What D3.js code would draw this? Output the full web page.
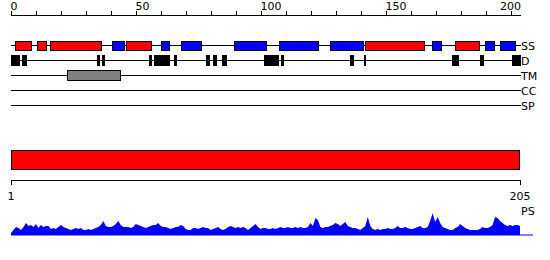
<!DOCTYPE html>
<html>
<head>
<meta charset="utf-8">
<script src="https://cdn.jsdelivr.net/npm/d3@7"></script>
<style>
  body { margin: 0; background: #fff; }
  svg text { font-family: "DejaVu Sans", sans-serif; font-size: 11px; fill: #000; }
</style>
</head>
<body>
<div id="chart"></div>
<script>
// sequence length / ruler
const seqLength = 205;
const rulerTicks = d3.range(0, 201, 10);
const rulerLabels = [0, 50, 100, 150, 200];

// track names
const tracks = ["SS", "D", "TM", "CC", "SP"];

// secondary structure: H = helix (red), E = strand (blue)
const ssStart = [1.5, 10.5, 15.5, 40.5, 46, 60, 68, 89, 107, 127.5, 141.5, 168.5, 177.5, 189.5, 195.5];
const ssEnd   = [8.5, 14.5, 36.5, 45.5, 56.5, 63.5, 76.5, 102.5, 123, 141, 165.5, 172.5, 187.5, 193.5, 202];
const ssType  = ["H", "H", "H", "E", "H", "E", "E", "E", "E", "E", "H", "E", "H", "E", "E"];

// disorder segments
const disStart = [0, 4.5, 34.5, 36.5, 55, 57, 65, 78, 81, 84.5, 101, 108, 135.5, 141, 176.5, 187.5, 200.5];
const disEnd   = [3.5, 6.5, 35.5, 37.5, 56.5, 63.5, 66.5, 79.5, 82.5, 86.5, 107, 109, 137, 142, 179, 189, 204];

// transmembrane segment
const tmStart = [22.5];
const tmEnd = [44];

// domain bar
const domainStart = [1];
const domainEnd = [205];

// per-residue profile score (PS)
const psValues = [
  2, 5, 8, 7, 5, 8, 12, 9, 10, 8, 11, 7, 10, 8, 9, 9, 6, 7, 6, 8,
  10, 8, 7, 6, 5, 6, 7, 6, 7, 5, 5, 6, 5, 6, 7, 8, 10, 14, 9, 8,
  8, 9, 11, 14, 10, 8, 8, 8, 7, 8, 11, 10, 9, 8, 7, 8, 9, 10, 10, 12,
  9, 8, 8, 7, 6, 7, 8, 8, 10, 9, 6, 5, 5, 7, 7, 6, 7, 8, 7, 7,
  5, 6, 7, 8, 6, 5, 6, 8, 9, 8, 7, 8, 7, 8, 7, 5, 7, 9, 11, 8,
  6, 7, 7, 6, 6, 7, 6, 7, 8, 7, 7, 8, 7, 7, 8, 7, 8, 7, 7, 8,
  12, 9, 17, 15, 8, 7, 8, 8, 9, 10, 12, 11, 9, 11, 13, 9, 8, 7, 7, 6,
  5, 7, 9, 18, 9, 6, 5, 6, 5, 6, 6, 7, 6, 6, 7, 9, 7, 7, 8, 7,
  6, 6, 7, 8, 9, 7, 7, 8, 14, 22, 13, 18, 12, 8, 7, 6, 5, 5, 7, 8,
  11, 9, 7, 6, 5, 5, 5, 5, 6, 8, 7, 7, 8, 10, 18, 17, 14, 12, 10, 9,
  10, 9, 10, 10, 9
];

const width = 550, height = 260;
const svg = d3.select("#chart").append("svg")
  .attr("width", width)
  .attr("height", height);

const colors = { H: "#ff0000", E: "#0000ff" };

// top ruler
const x = d3.scaleLinear().domain([0, 204]).range([11, 521]);

svg.append("line")
  .attr("x1", x(0)).attr("x2", x(204))
  .attr("y1", 15.5).attr("y2", 15.5)
  .attr("stroke", "#000");

svg.selectAll(".rtick")
  .data(rulerTicks)
  .enter().append("line")
  .attr("class", "rtick")
  .attr("x1", d => Math.round(x(d)) + 0.5).attr("x2", d => Math.round(x(d)) + 0.5)
  .attr("y1", 11).attr("y2", 15.5)
  .attr("stroke", "#000");

svg.selectAll(".rlabel")
  .data(rulerLabels)
  .enter().append("text")
  .attr("class", "rlabel")
  .attr("x", d => d === 200 ? x(204) : x(d) - 0.5)
  .attr("y", 10)
  .attr("text-anchor", d => d === 200 ? "end" : "start")
  .text(d => d);

// tracks
const trackY = d3.scalePoint().domain(tracks).range([45, 105]);

svg.selectAll(".track")
  .data(tracks)
  .enter().append("line")
  .attr("class", "track")
  .attr("x1", x(0)).attr("x2", x(204))
  .attr("y1", d => trackY(d) + 0.5).attr("y2", d => trackY(d) + 0.5)
  .attr("stroke", "#000");

svg.selectAll(".tlabel")
  .data(tracks)
  .enter().append("text")
  .attr("class", "tlabel")
  .attr("x", x(204))
  .attr("y", d => trackY(d) + 4.5)
  .text(d => d);

// SS boxes
svg.selectAll(".ss")
  .data(ssStart.map((s, i) => ({ s, e: ssEnd[i], t: ssType[i] })))
  .enter().append("rect")
  .attr("class", "ss")
  .attr("x", d => Math.round(x(d.s)) + 0.5)
  .attr("width", d => Math.round(x(d.e)) - Math.round(x(d.s)) - 1)
  .attr("y", trackY("SS") - 3.5)
  .attr("height", 9)
  .attr("fill", d => colors[d.t])
  .attr("stroke", "#000");

// disorder boxes
svg.selectAll(".dis")
  .data(disStart.map((s, i) => ({ s, e: disEnd[i] })))
  .enter().append("rect")
  .attr("class", "dis")
  .attr("x", d => Math.round(x(d.s)))
  .attr("width", d => Math.round(x(d.e)) - Math.round(x(d.s)))
  .attr("y", trackY("D") - 5)
  .attr("height", 11)
  .attr("fill", "#000");

// TM box
svg.selectAll(".tm")
  .data(tmStart.map((s, i) => ({ s, e: tmEnd[i] })))
  .enter().append("rect")
  .attr("class", "tm")
  .attr("x", d => Math.round(x(d.s)) + 0.5)
  .attr("width", d => Math.round(x(d.e)) - Math.round(x(d.s)) - 1)
  .attr("y", trackY("TM") - 4.5)
  .attr("height", 10)
  .attr("fill", "#808080")
  .attr("stroke", "#000");

// domain bar and lower ruler
const xb = d3.scaleLinear().domain([1, seqLength]).range([11, 520]);

svg.selectAll(".domain-bar")
  .data(domainStart.map((s, i) => ({ s, e: domainEnd[i] })))
  .enter().append("rect")
  .attr("class", "domain-bar")
  .attr("x", d => xb(d.s) + 0.5)
  .attr("width", d => xb(d.e) - xb(d.s) - 1)
  .attr("y", 150.5)
  .attr("height", 19)
  .attr("fill", "#ff0000")
  .attr("stroke", "#000");

svg.append("line")
  .attr("x1", xb(1)).attr("x2", xb(seqLength))
  .attr("y1", 180.5).attr("y2", 180.5)
  .attr("stroke", "#000");

svg.selectAll(".btick")
  .data([1, seqLength])
  .enter().append("line")
  .attr("class", "btick")
  .attr("x1", d => xb(d) + 0.5).attr("x2", d => xb(d) + 0.5)
  .attr("y1", 180).attr("y2", 185)
  .attr("stroke", "#000");

svg.selectAll(".blabel")
  .data([1, seqLength])
  .enter().append("text")
  .attr("class", "blabel")
  .attr("x", d => xb(d))
  .attr("y", 200)
  .attr("text-anchor", "middle")
  .text(d => d);

// profile
const yps = d3.scaleLinear().domain([0, 25]).range([235, 210]);

const area = d3.area()
  .x((d, i) => xb(i + 1))
  .y0(yps(0))
  .y1(d => yps(d));

svg.append("path")
  .datum(psValues)
  .attr("d", area)
  .attr("fill", "#0000ff");

svg.append("line")
  .attr("x1", xb(1)).attr("x2", 533)
  .attr("y1", 235).attr("y2", 235)
  .attr("stroke", "#0000ff");

svg.append("text")
  .attr("x", 521)
  .attr("y", 215)
  .text("PS");
</script>
</body>
</html>
